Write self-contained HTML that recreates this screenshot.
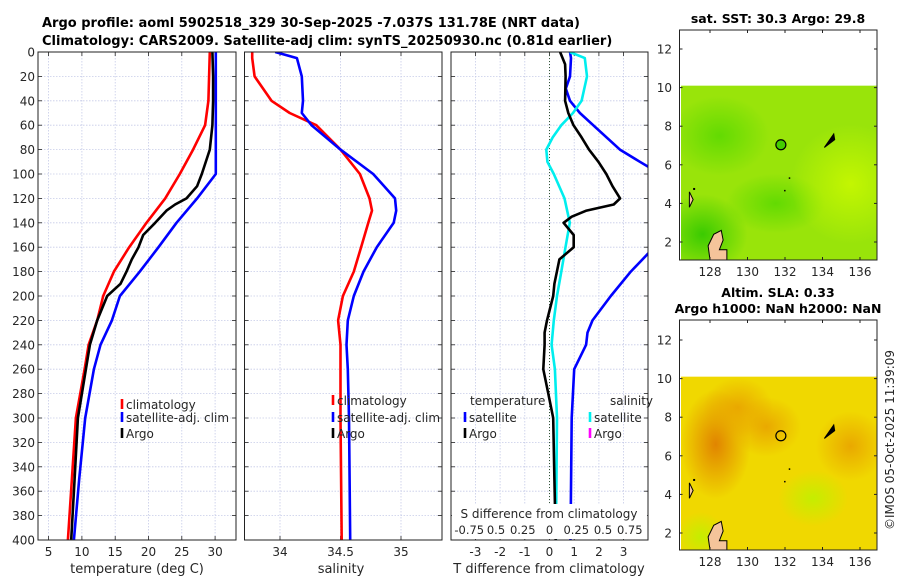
<!DOCTYPE html>
<html><head><meta charset="utf-8">
<style>
html,body{margin:0;padding:0;background:#fff;}
svg{display:block;font-family:"DejaVu Sans","Liberation Sans",sans-serif;}
</style></head>
<body>
<svg id="fig" width="900" height="580" viewBox="0 0 900 580" xmlns="http://www.w3.org/2000/svg">
<defs>
<clipPath id="c1"><rect x="38" y="52" width="198" height="488"/></clipPath>
<clipPath id="c2"><rect x="244.5" y="52" width="197.5" height="488"/></clipPath>
<clipPath id="c3"><rect x="451" y="52" width="197" height="488"/></clipPath>
<clipPath id="cm1"><rect x="681" y="86" width="196" height="174"/></clipPath>
<clipPath id="cm2"><rect x="681" y="376" width="196" height="174"/></clipPath>
<radialGradient id="g1a"><stop offset="0" stop-color="#30c800" stop-opacity="0.9"/><stop offset="1" stop-color="#30c800" stop-opacity="0"/></radialGradient>
<radialGradient id="g1b"><stop offset="0" stop-color="#55d800" stop-opacity="0.8"/><stop offset="1" stop-color="#55d800" stop-opacity="0"/></radialGradient>
<radialGradient id="g1c"><stop offset="0" stop-color="#c8f800" stop-opacity="0.9"/><stop offset="1" stop-color="#c8f800" stop-opacity="0"/></radialGradient>
<radialGradient id="g2a"><stop offset="0" stop-color="#e08000" stop-opacity="0.95"/><stop offset="1" stop-color="#e08000" stop-opacity="0"/></radialGradient>
<radialGradient id="g2b"><stop offset="0" stop-color="#e8a000" stop-opacity="0.85"/><stop offset="1" stop-color="#e8a000" stop-opacity="0"/></radialGradient>
<radialGradient id="g2c"><stop offset="0" stop-color="#c0f000" stop-opacity="0.9"/><stop offset="1" stop-color="#c0f000" stop-opacity="0"/></radialGradient>
</defs>
<text x="42" y="27" text-anchor="start" font-size="13" font-weight="bold">Argo profile: aoml 5902518_329 30-Sep-2025 -7.037S 131.78E (NRT data)</text>
<text x="42" y="45" text-anchor="start" font-size="13" font-weight="bold">Climatology: CARS2009. Satellite-adj clim: synTS_20250930.nc (0.81d earlier)</text>
<g id="layer"></g>
</svg>
<script>
// ---- data ----
const depthTemp = [0,20,40,60,80,100,120,140,160,180,200,220,240,260,300,350,400];
const tempClim  = [29.2,29.1,29.0,28.5,26.7,24.7,22.5,19.7,17.1,14.8,13.2,12.3,11.0,10.4,9.1,8.5,7.9];
const tempSat   = [30.1,30.1,30.1,30.1,30.1,30.1,27.3,24.2,21.5,18.7,15.7,14.5,12.8,11.8,10.5,9.6,8.8];
const depthArgo = [0,20,40,60,80,100,110,120,125,130,140,150,160,170,180,190,200,220,240,260,300,350,400];
const tempArgo  = [29.6,29.7,29.7,29.6,29.2,28.0,27.3,25.7,24.0,22.7,21.0,19.2,18.5,17.5,16.7,15.8,13.8,12.3,11.2,10.6,9.4,8.9,8.4];
const depthSal  = [0,5,20,40,50,60,80,100,120,130,140,160,180,200,220,240,260,300,400];
const salClim   = [33.77,33.77,33.79,33.93,34.08,34.30,34.50,34.66,34.74,34.76,34.73,34.67,34.61,34.52,34.48,34.50,34.50,34.50,34.51];
const salSat    = [33.96,34.14,34.18,34.19,34.18,34.26,34.50,34.77,34.95,34.96,34.94,34.80,34.69,34.61,34.56,34.55,34.56,34.57,34.58];
const depthDiff = [0,10,20,40,50,60,70,80,90,100,110,120,125,130,135,140,150,160,170,180,190,200,220,230,240,260,280,300,350,400];
const tDiffArgo = [0.43,0.63,0.65,0.63,0.76,0.97,1.3,1.6,1.98,2.3,2.55,2.86,2.6,1.5,0.9,0.57,0.98,0.98,0.4,0.3,0.2,0.15,-0.1,-0.2,-0.2,-0.25,-0.05,0.15,0.2,0.25];
const depthTSat = [0,5,20,30,40,50,60,80,90,100,130,160,165,180,200,220,230,240,260,300,400];
const tDiffSat  = [0.83,0.87,0.83,0.66,0.83,1.23,1.77,2.85,3.66,4.5,5.5,4.3,4.0,3.29,2.48,1.74,1.54,1.48,1.0,0.9,0.85];
const depthSDiff= [0,5,20,40,50,60,70,80,90,100,120,140,160,180,200,220,240,260,300,400];
const sDiffSat  = [0.19,0.33,0.35,0.30,0.22,0.11,0.03,-0.03,-0.02,0.04,0.14,0.19,0.15,0.11,0.07,0.04,0.02,0.05,0.07,0.06];
const depthTicks = [0,20,40,60,80,100,120,140,160,180,200,220,240,260,280,300,320,340,360,380,400];
const tempTicks = [5,10,15,20,25,30];
const salTicks = [34,34.5,35];
const salTickLabels = ["34","34.5","35"];
const tdTicks = [-3,-2,-1,0,1,2,3];
const sdTicks = [-0.75,-0.5,-0.25,0,0.25,0.5,0.75];
const sdTickLabels = ["-0.75","0.5","0.25","0","0.25","0.5","0.75"];
const lonTicks = [128,130,132,134,136];
const latTicks = [2,4,6,8,10,12];
const argoLon = 131.78, argoLat = 7.037;

// ---- axes ----
const yD = d => 52 + 1.22*d;
const xT = t => 48.6 + 6.66*(t-5);
const xS = s => 280 + 121*(s-34);
const xTd = t => 549.5 + 24.7*t;
const xSd = s => 549.5 + 107*s;
const mx = lon => 710 + 18.75*(lon-128);
const my1 = lat => 242 - 19.3*(lat-2);
const my2 = lat => 533 - 19.3*(lat-2);

const NS="http://www.w3.org/2000/svg";
const layer=document.getElementById('layer');
function mk(tag,attrs,parent){const e=document.createElementNS(NS,tag);for(const k in attrs)e.setAttribute(k,attrs[k]);(parent||layer).appendChild(e);return e;}
function txt(x,y,s,size,anchor,parent){const e=mk('text',{x:x,y:y,'font-size':size||12,'text-anchor':anchor||'middle',fill:'#262626'},parent);e.textContent=s;return e;}

const panels=[
 {x0:38,x1:236,clip:'c1',name:'temperature-panel'},
 {x0:244.5,x1:442,clip:'c2',name:'salinity-panel'},
 {x0:451,x1:648,clip:'c3',name:'difference-panel'}];

panels.forEach((p,i)=>{
  const g=mk('g',{});
  
  
  depthTicks.forEach(d=>{
    if(d>0&&d<400) mk('line',{x1:p.x0,x2:p.x1,y1:yD(d),y2:yD(d),stroke:'#c6cbe8','stroke-width':0.8,'stroke-dasharray':'1.5,1.5'},g);
    mk('line',{x1:p.x0,x2:p.x0+4,y1:yD(d),y2:yD(d),stroke:'#222','stroke-width':0.8},g);
    mk('line',{x1:p.x1-4,x2:p.x1,y1:yD(d),y2:yD(d),stroke:'#222','stroke-width':0.8},g);
  });
  let xs, labels;
  if(i==0){xs=tempTicks.map(xT);labels=tempTicks.map(String);}
  else if(i==1){xs=salTicks.map(xS);labels=salTickLabels;}
  else {xs=tdTicks.map(xTd);labels=tdTicks.map(String);}
  xs.forEach((x,k)=>{
    mk('line',{x1:x,x2:x,y1:52,y2:540,stroke:'#c6cbe8','stroke-width':0.8,'stroke-dasharray':'1.5,1.5'},g);
    mk('line',{x1:x,x2:x,y1:540,y2:536,stroke:'#222','stroke-width':0.8},g);
    mk('line',{x1:x,x2:x,y1:52,y2:56,stroke:'#222','stroke-width':0.8},g);
    txt(x,556,labels[k],12,'middle',g);
  });
});
depthTicks.forEach(d=>{txt(35,yD(d)+4.5,String(d),12,'end');});
mk('line',{x1:xTd(0),x2:xTd(0),y1:52,y2:540,stroke:'#335533','stroke-width':1,'stroke-dasharray':'1,2'});

function series(xArr,dArr,fx,color,clip,name,w){
  const pts=xArr.map((v,k)=>fx(v).toFixed(1)+','+yD(dArr[k]).toFixed(1)).join(' ');
  const e=mk('polyline',{points:pts,fill:'none',stroke:color,'stroke-width':w||2.6,'stroke-linejoin':'round','clip-path':'url(#'+clip+')'});
  
  
}
series(tempClim,depthTemp,xT,'#ff0000','c1','temp-climatology-line');
series(tempSat,depthTemp,xT,'#0000ff','c1','temp-satellite-line');
series(tempArgo,depthArgo,xT,'#000000','c1','temp-argo-line');
series(salClim,depthSal,xS,'#ff0000','c2','sal-climatology-line');
series(salSat,depthSal,xS,'#0000ff','c2','sal-satellite-line');
series(tDiffSat,depthTSat,xTd,'#0000ff','c3','tdiff-satellite-line');
series(sDiffSat,depthSDiff,xSd,'#00eeee','c3','sdiff-satellite-line');
series(tDiffArgo,depthDiff,xTd,'#000000','c3','tdiff-argo-line');

const sbox=mk('rect',{x:452,y:504,width:195,height:35,fill:'#fff'});


txt(549,518,'S difference from climatology',12);
sdTicks.forEach((s,k)=>{txt(xSd(s),534,sdTickLabels[k],11.5);});

panels.forEach(p=>{mk('rect',{x:p.x0,y:52,width:p.x1-p.x0,height:488,fill:'none',stroke:'#222','stroke-width':1});});

txt(137,573,'temperature (deg C)',13);
txt(341,573,'salinity',13);
txt(549,573,'T difference from climatology',13);

function legend(x,y,color,label,name){
  const g=mk('g',{});
  
  
  mk('line',{x1:x,x2:x,y1:y-10,y2:y,stroke:color,'stroke-width':2.6},g);
  if(label) txt(x+4,y,label,12,'start',g);
}
legend(122,409,'#ff0000','climatology','legend-temp-climatology');
legend(122,422,'#0000ff','satellite-adj. clim','legend-temp-satellite');
legend(122,438,'#000000','Argo','legend-temp-argo');
legend(333,405,'#ff0000','climatology','legend-sal-climatology');
legend(333,422,'#0000ff','satellite-adj. clim','legend-sal-satellite');
legend(333,438,'#000000','Argo','legend-sal-argo');
txt(470,405,'temperature',12,'start');
txt(610,405,'salinity',12,'start');
legend(465,422,'#0000ff','satellite','legend-tdiff-satellite');
legend(465,438,'#000000','Argo','legend-tdiff-argo');
legend(590,422,'#00eeee','satellite','legend-sdiff-satellite');
legend(590,438,'#ff00ff','Argo','legend-sdiff-argo');

function map(top,my,clip,kind,name,titleLines){
  const g=mk('g',{});
  
  
  const y10=my(10.1), yb=top+230;
  if(kind==1){
    mk('rect',{x:681,y:y10,width:196,height:yb-y10,fill:'#99e40a'},g);
    mk('ellipse',{cx:mx(127.6),cy:my(2.4),rx:45,ry:40,fill:'url(#g1a)','clip-path':'url(#'+clip+')'},g);
    mk('ellipse',{cx:mx(131.5),cy:my(4),rx:50,ry:30,fill:'url(#g1b)','clip-path':'url(#'+clip+')'},g);
    mk('ellipse',{cx:mx(128.5),cy:my(7.5),rx:50,ry:40,fill:'url(#g1b)','clip-path':'url(#'+clip+')'},g);
    mk('ellipse',{cx:mx(135.5),cy:my(5),rx:60,ry:60,fill:'url(#g1c)','clip-path':'url(#'+clip+')'},g);
  } else {
    mk('rect',{x:681,y:y10,width:196,height:yb-y10,fill:'#f0d800'},g);
    mk('ellipse',{cx:mx(128.3),cy:my(6.6),rx:35,ry:55,fill:'url(#g2a)','clip-path':'url(#'+clip+')'},g);
    mk('ellipse',{cx:mx(129.5),cy:my(8.5),rx:35,ry:30,fill:'url(#g2b)','clip-path':'url(#'+clip+')'},g);
    mk('ellipse',{cx:mx(131),cy:my(7.5),rx:35,ry:30,fill:'url(#g2b)','clip-path':'url(#'+clip+')'},g);
    mk('ellipse',{cx:mx(135.5),cy:my(6.5),rx:35,ry:35,fill:'url(#g2b)','clip-path':'url(#'+clip+')'},g);
    mk('ellipse',{cx:mx(133.5),cy:my(3.8),rx:35,ry:28,fill:'url(#g2c)','clip-path':'url(#'+clip+')'},g);
    mk('ellipse',{cx:mx(127.5),cy:my(1.8),rx:25,ry:25,fill:'url(#g2c)','clip-path':'url(#'+clip+')'},g);
  }
  mk('path',{d:`M${mx(128)} ${yb} L${mx(127.9)} ${my(1.8)} L${mx(128.2)} ${my(2.4)} L${mx(128.6)} ${my(2.6)} L${mx(128.7)} ${my(2.1)} L${mx(128.5)} ${my(1.6)} L${mx(128.9)} ${my(1.6)} L${mx(128.9)} ${yb} Z`,fill:'#f5c49a',stroke:'#000','stroke-width':1,'clip-path':'url(#'+clip+')'},g);
  mk('path',{d:`M${mx(126.9)} ${my(4.6)} L${mx(127.1)} ${my(4.2)} L${mx(126.9)} ${my(3.8)} Z`,fill:'#f5c49a',stroke:'#000','stroke-width':1},g);
  mk('path',{d:`M${mx(134.1)} ${my(6.9)} L${mx(134.6)} ${my(7.6)} L${mx(134.65)} ${my(7.3)} Z`,fill:'#000',stroke:'#000','stroke-width':1},g);
  mk('rect',{x:mx(132.2),y:my(5.35),width:1.5,height:1.5,fill:'#000'},g);
  mk('rect',{x:mx(131.95),y:my(4.7),width:1.5,height:1.5,fill:'#000'},g);
  mk('rect',{x:mx(127.1),y:my(4.8),width:2,height:2,fill:'#000'},g);
  const c=mk('circle',{cx:mx(argoLon),cy:my(argoLat),r:5,fill:kind==1?'#44cc00':'none',stroke:'#000','stroke-width':1.2},g);
  
  
  mk('rect',{x:679.5,y:top,width:197.5,height:230,fill:'none',stroke:'#222','stroke-width':1},g);
  lonTicks.forEach(l=>{mk('line',{x1:mx(l),x2:mx(l),y1:yb,y2:yb-3,stroke:'#222'},g);mk('line',{x1:mx(l),x2:mx(l),y1:top,y2:top+3,stroke:'#222'},g);txt(mx(l),yb+16,String(l),12,'middle',g);});
  latTicks.forEach(l=>{mk('line',{x1:679.5,x2:682.5,y1:my(l),y2:my(l),stroke:'#222'},g);mk('line',{x1:877,x2:874,y1:my(l),y2:my(l),stroke:'#222'},g);txt(672,my(l)+4.5,String(l),12,'end',g);});
  titleLines.forEach((t,k)=>{const e=txt(778,top-7-(titleLines.length-1-k)*16,t,12.5,'middle',g);e.setAttribute('font-weight','bold');e.setAttribute('fill','#000');});
}
map(30,my1,'cm1',1,'sst-map',['sat. SST: 30.3 Argo: 29.8']);
map(320,my2,'cm2',2,'sla-map',['Altim. SLA: 0.33','Argo h1000: NaN h2000: NaN']);
const im=txt(0,0,'©IMOS 05-Oct-2025 11:39:09',12,'middle');
im.setAttribute('transform','translate(894,440) rotate(-90)');


</script>
</body></html>
